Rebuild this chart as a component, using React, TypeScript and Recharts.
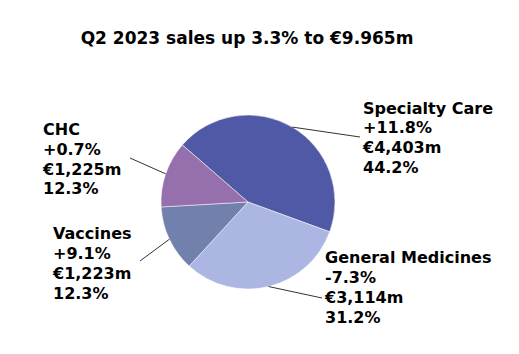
import { PieChart, Pie, Cell } from "recharts";

const segments = ["Specialty Care", "General Medicines", "Vaccines", "CHC"];
const growth = ["+11.8%", "-7.3%", "+9.1%", "+0.7%"];
const salesMillions = [4403, 3114, 1223, 1225];
const salesLabels = ["€4,403m", "€3,114m", "€1,223m", "€1,225m"];
const shares = ["44.2%", "31.2%", "12.3%", "12.3%"];

const colors = ["#5059a5", "#abb6e2", "#7280ae", "#9670ad"];

// label placement relative to pie centre: [lineEndX, lineEndY, textX, textY]
const labelLayout = [
    [112, -65, 115, -88.5],
    [74, 96, 77, 61.3],
    [-108, 59, -195, 37.3],
    [-118, -44, -205, -67],
];

const data = segments.map((name, i) => ({
    name,
    value: salesMillions[i],
    growth: growth[i],
    sales: salesLabels[i],
    share: shares[i],
}));

const RAD = Math.PI / 180;

const renderLabel = (props: any) => {
    const { cx, cy, midAngle, outerRadius, index } = props;
    const [lx, ly, tx, ty] = labelLayout[index];
    const sx = cx + outerRadius * Math.cos(-midAngle * RAD);
    const sy = cy + outerRadius * Math.sin(-midAngle * RAD);
    const d = data[index];
    const lines = [d.name, d.growth, d.sales, d.share];
    return (
        <g key={`label-${index}`}>
            <line x1={sx} y1={sy} x2={cx + lx} y2={cy + ly} stroke="#333" strokeWidth={1} />
            <text
                x={cx + tx}
                y={cy + ty}
                fontFamily="'DejaVu Sans', Verdana, sans-serif"
                fontWeight="bold"
                fontSize={16}
                fill="#000"
            >
                {lines.map((t, i) => (
                    <tspan key={i} x={cx + tx} dy={i === 0 ? 0 : 19.8}>{t}</tspan>
                ))}
            </text>
        </g>
    );
};

export default function App() {
    return (
        <div style={{ position: "absolute", left: 0, top: 0, width: 519, height: 354, background: "#fff" }}>
            <div
                style={{
                    position: "absolute",
                    left: 0,
                    width: 494,
                    top: 28,
                    textAlign: "center",
                    fontFamily: "'DejaVu Sans', Verdana, sans-serif",
                    fontWeight: "bold",
                    fontSize: 17,
                    color: "#000",
                }}
            >
                Q2 2023 sales up 3.3% to €9.965m
            </div>
            <PieChart width={519} height={354} margin={{ top: 0, right: 0, bottom: 0, left: 0 }}>
                <Pie
                    data={data}
                    dataKey="value"
                    nameKey="name"
                    cx={248}
                    cy={202}
                    outerRadius={87}
                    startAngle={139}
                    endAngle={-221}
                    stroke="#ffffff"
                    strokeWidth={0.5}
                    label={renderLabel}
                    labelLine={false}
                    isAnimationActive={false}
                >
                    {data.map((entry, index) => (
                        <Cell key={`cell-${index}`} fill={colors[index]} />
                    ))}
                </Pie>
            </PieChart>
        </div>
    );
}
